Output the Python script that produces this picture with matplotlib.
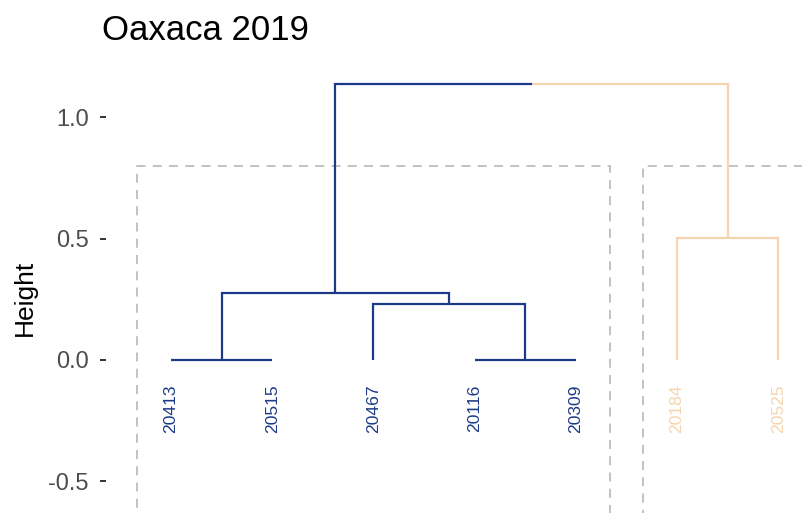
import matplotlib
matplotlib.use("Agg")
import matplotlib.pyplot as plt
from matplotlib.patches import Rectangle

plt.rcParams["font.family"] = ["Liberation Sans", "DejaVu Sans"]

# Leaves in dendrogram order and their cluster assignment
leaves = ["20413", "20515", "20467", "20116", "20309", "20184", "20525"]
clusters = [1, 1, 1, 1, 1, 2, 2]

# Merges (scipy-like): node ids 0..6 are leaves, new nodes start at 7
merge_left = [0, 3, 2, 7, 5, 10]
merge_right = [1, 4, 8, 9, 6, 11]
merge_height = [0.0, 0.0, 0.230, 0.276, 0.502, 1.136]

# Cluster boxes (first leaf index, last leaf index) and box top
box_first = [0, 5]
box_last = [4, 6]
box_top = 0.798

cluster_colors = {1: "#1C3A87", 2: "#F5D5AE"}
box_color = "#BDBDBD"

title = "Oaxaca 2019"
ylabel = "Height"
yticks = [-0.5, 0.0, 0.5, 1.0]
ytick_labels = ["-0.5", "0.0", "0.5", "1.0"]

fig = plt.figure(figsize=(8.02, 5.13), dpi=100)
W, H = 802, 513
ax = fig.add_axes([106 / W, 0, (W - 106) / W, (H - 60) / H])

n = len(leaves)
node_x = {i: i + 1.0 for i in range(n)}
node_h = {i: 0.0 for i in range(n)}
node_c = {i: clusters[i] for i in range(n)}

for k, (a, b, h) in enumerate(zip(merge_left, merge_right, merge_height)):
    nid = n + k
    xa, xb = node_x[a], node_x[b]
    xm = (xa + xb) / 2
    ca, cb = node_c[a], node_c[b]
    # left half of the link
    ax.plot([xa, xa, xm], [node_h[a], h, h], color=cluster_colors[ca],
            lw=1.6, solid_capstyle="butt", solid_joinstyle="miter", zorder=3)
    # right half of the link
    ax.plot([xm, xb, xb], [h, h, node_h[b]], color=cluster_colors[cb],
            lw=1.6, solid_capstyle="butt", solid_joinstyle="miter", zorder=3)
    node_x[nid] = xm
    node_h[nid] = h
    node_c[nid] = ca if ca == cb else 0

# Leaf labels
for i, lab in enumerate(leaves):
    ax.text(i + 1, -0.1, lab, rotation=90, ha="center", va="top",
            fontsize=12.6, color=cluster_colors[clusters[i]], zorder=4)

# Dashed cluster rectangles
for f, l in zip(box_first, box_last):
    x0 = f + 1 - 0.336
    x1 = l + 1 + 0.336
    ax.add_patch(Rectangle((x0, -1.5), x1 - x0, box_top + 1.5, fill=False,
                           edgecolor=box_color, lw=1.3, linestyle=(0, (5, 4)),
                           zorder=2))

ax.set_xlim(0.358, 7.235)
ax.set_ylim(-0.63, 1.235)
ax.set_xticks([])
ax.set_yticks(yticks)
ax.set_yticklabels(ytick_labels, fontsize=17, color="#4D4D4D")
ax.tick_params(axis="y", length=4.5, width=1.3, color="#222222", pad=8)
for s in ax.spines.values():
    s.set_visible(False)

fig.text(25 / W, 1 - 298 / H, ylabel, rotation=90, ha="center", va="center",
         fontsize=19, color="black")
fig.text(102 / W, 1 - 31 / H, title, ha="left", va="center",
         fontsize=25, color="black")

fig.savefig("out.png", dpi=100)
